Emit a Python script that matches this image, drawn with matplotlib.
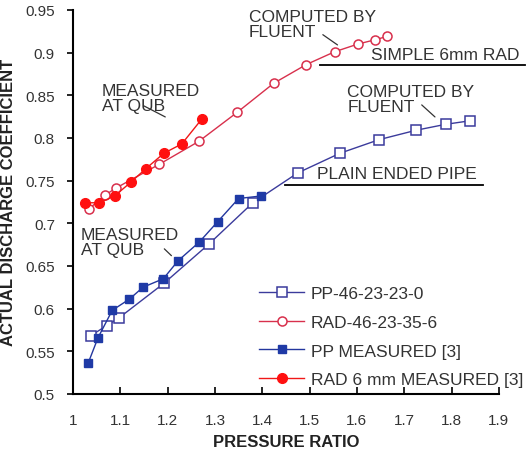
import matplotlib
matplotlib.use("Agg")
import matplotlib.pyplot as plt

plt.rcParams['font.family'] = ['Liberation Sans', 'DejaVu Sans']

# PP computed (open squares)
pp_cfd_x = [1.037, 1.071, 1.097, 1.193, 1.288, 1.380, 1.475, 1.564, 1.647, 1.725, 1.788, 1.838]
pp_cfd_y = [0.568, 0.580, 0.589, 0.630, 0.676, 0.724, 0.759, 0.782, 0.798, 0.809, 0.816, 0.820]

# RAD computed (open circles)
rad_cfd_x = [1.034, 1.068, 1.090, 1.182, 1.266, 1.347, 1.424, 1.493, 1.553, 1.602, 1.638, 1.664]
rad_cfd_y = [0.717, 0.733, 0.741, 0.769, 0.796, 0.830, 0.864, 0.886, 0.901, 0.910, 0.915, 0.919]

# PP measured (filled squares)
pp_meas_x = [1.032, 1.053, 1.083, 1.119, 1.148, 1.191, 1.222, 1.267, 1.306, 1.350, 1.398]
pp_meas_y = [0.536, 0.566, 0.598, 0.611, 0.625, 0.635, 0.656, 0.678, 0.702, 0.729, 0.732]

# RAD measured (filled circles)
rad_meas_x = [1.025, 1.056, 1.088, 1.122, 1.154, 1.192, 1.230, 1.272]
rad_meas_y = [0.724, 0.724, 0.732, 0.748, 0.764, 0.782, 0.793, 0.822]

labels = ['PP-46-23-23-0', 'RAD-46-23-35-6', 'PP MEASURED [3]', 'RAD 6 mm MEASURED [3]']

xticks = [1, 1.1, 1.2, 1.3, 1.4, 1.5, 1.6, 1.7, 1.8, 1.9]
yticks = [0.5, 0.55, 0.6, 0.65, 0.7, 0.75, 0.8, 0.85, 0.9, 0.95]

fig = plt.figure(figsize=(5.29, 4.56), dpi=100)
ax = fig.add_axes([0.138, 0.134, 0.805, 0.842])

ax.plot(pp_cfd_x, pp_cfd_y, color='#3b3b9c', lw=1, marker='s', ms=7,
        mfc='white', mec='#3b3b9c', mew=1.1, label=labels[0])
ax.plot(rad_cfd_x, rad_cfd_y, color='#d8304c', lw=1, marker='o', ms=6.5,
        mfc='white', mec='#d8304c', mew=1.1, label=labels[1])
ax.plot(pp_meas_x, pp_meas_y, color='#23369e', lw=1, marker='s', ms=5.5,
        mfc='#1f3aa6', mec='#1f3aa6', label=labels[2])
ax.plot(rad_meas_x, rad_meas_y, color='#f01818', lw=1, marker='o', ms=7,
        mfc='#ff1010', mec='#ff1010', label=labels[3])

ax.set_xlim(1, 1.9)
ax.set_ylim(0.5, 0.95)
ax.set_xticks(xticks)
ax.set_xticklabels(['1', '1.1', '1.2', '1.3', '1.4', '1.5', '1.6', '1.7', '1.8', '1.9'])
ax.set_yticks(yticks)
ax.set_yticklabels(['0.5', '0.55', '0.6', '0.65', '0.7', '0.75', '0.8', '0.85', '0.9', '0.95'])

ax.spines['top'].set_visible(False)
ax.spines['right'].set_visible(False)
ax.spines['left'].set_linewidth(1.5)
ax.spines['bottom'].set_linewidth(1.5)
ax.tick_params(axis='y', direction='out', length=4, width=1.2, labelsize=11,
               labelcolor='#333333', pad=9)
ax.tick_params(axis='x', direction='in', length=5, width=1.2, labelsize=11,
               labelcolor='#333333', pad=14)

ax.set_xlabel('PRESSURE RATIO', fontsize=12, fontweight='bold', color='#222222', labelpad=5)
ax.set_ylabel('ACTUAL DISCHARGE COEFFICIENT', fontsize=12, fontweight='bold',
              color='#222222', labelpad=7)

txt = dict(fontsize=12.5, color='#333333', ha='left', va='top', linespacing=1.0)
lead = dict(arrowstyle='-', color='#333333', lw=0.9, shrinkA=0, shrinkB=0)

# upper annotations (RAD)
ax.annotate('', xy=(1.559, 0.909), xytext=(1.528, 0.921), arrowprops=lead)
ax.text(1.371, 0.951, 'COMPUTED BY\nFLUENT', **txt)
ax.text(1.629, 0.889, 'SIMPLE 6mm RAD', fontsize=12.5, color='#333333', ha='left', va='bottom')
ax.plot([1.521, 1.955], [0.8856, 0.8856], color='black', lw=1.3, clip_on=False)

ax.annotate('', xy=(1.195, 0.8246), xytext=(1.150, 0.8375), arrowprops=lead)
ax.text(1.061, 0.8645, 'MEASURED\nAT QUB', **txt)

# lower annotations (PP)
ax.annotate('', xy=(1.765, 0.8246), xytext=(1.737, 0.8387), arrowprops=lead)
ax.text(1.580, 0.863, 'COMPUTED BY\nFLUENT', **txt)
ax.text(1.516, 0.749, 'PLAIN ENDED PIPE', fontsize=12.5, color='#333333', ha='left', va='bottom')
ax.plot([1.449, 1.867], [0.745, 0.745], color='black', lw=1.3, clip_on=False)

ax.annotate('', xy=(1.208, 0.662), xytext=(1.193, 0.670), arrowprops=lead)
ax.text(1.017, 0.696, 'MEASURED\nAT QUB', **txt)

leg = ax.legend(loc='upper left', bbox_to_anchor=(259 / 529, 1 - 287 / 456),
                bbox_transform=fig.transFigure, frameon=False, fontsize=12.5,
                handlelength=2.6, handletextpad=0.4, labelspacing=0.78, borderpad=0,
                borderaxespad=0, labelcolor='#333333')

fig.savefig('out.png', dpi=100)
